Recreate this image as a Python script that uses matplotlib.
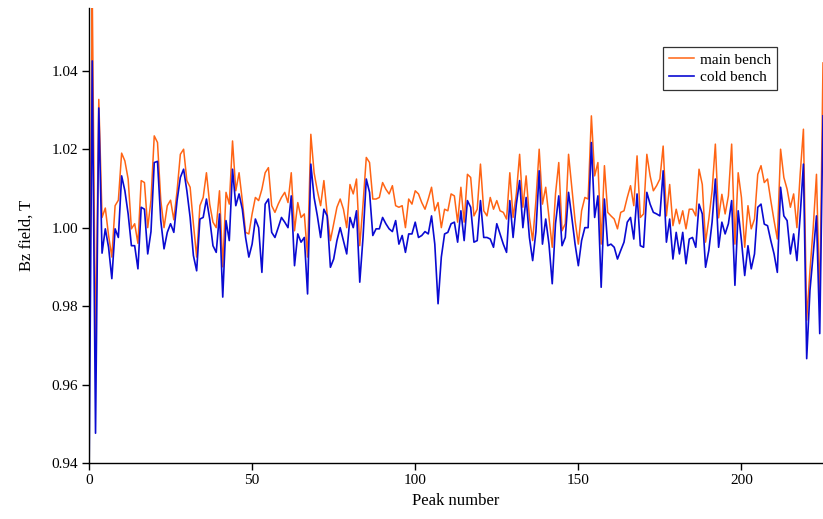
import matplotlib
matplotlib.use("Agg")
import matplotlib.pyplot as plt
import numpy as np

plt.rcParams['font.family'] = ['Liberation Serif', 'DejaVu Serif']

main_bench = [
    0.9585, 1.060, 0.968, 1.0327, 1.0026, 1.005, 0.998, 0.9925, 1.0056, 1.007,
    1.019, 1.017, 1.0124, 0.9997, 1.001, 0.996, 1.012, 1.0115, 1.000, 1.007,
    1.0234, 1.0217, 1.007, 1.000, 1.0056, 1.007, 1.002, 1.0094, 1.0187, 1.020,
    1.012, 1.0103, 1.001, 0.9925, 1.0056, 1.0077, 1.014, 1.006, 1.0014, 1.000,
    1.0094, 0.990, 1.009, 1.006, 1.0221, 1.0094, 1.014, 1.0069, 0.9988, 0.9984,
    1.0035, 1.0077, 1.0069, 1.0098, 1.014, 1.0153, 1.0056, 1.0039, 1.006, 1.0077,
    1.009, 1.0064, 1.014, 0.9992, 1.0064, 1.0026, 1.0035, 0.9925, 1.0238, 1.014,
    1.0094, 1.0056, 1.012, 1.0035, 0.9967, 1.001, 1.0052, 1.0073, 1.0047, 1.000,
    1.011, 1.0086, 1.0124, 0.9954, 1.006, 1.0179, 1.0166, 1.0073, 1.0073, 1.0077,
    1.0115, 1.0098, 1.0086, 1.0107, 1.0056, 1.0052, 1.0056, 1.000, 1.0073, 1.006,
    1.0094, 1.0086, 1.0064, 1.0047, 1.0073, 1.0103, 1.0043, 1.0064, 1.000, 1.0047,
    1.0043, 1.0086, 1.0081, 1.0014, 1.0103, 1.0014, 1.0136, 1.0128, 1.003, 1.0047,
    1.0162, 1.0043, 1.003, 1.0077, 1.0047, 1.0069, 1.0043, 1.0039, 1.0022, 1.014,
    1.0026, 1.0086, 1.0187, 1.0052, 1.0132, 1.0026, 0.9967, 1.0069, 1.020, 1.006,
    1.0103, 1.0026, 0.995, 1.0086, 1.0166, 0.9992, 1.001, 1.0187, 1.0103, 1.0018,
    0.9958, 1.0043, 1.0077, 1.0073, 1.0285, 1.0132, 1.0166, 0.9958, 1.0158, 1.0039,
    1.003, 1.0022, 0.9997, 1.0039, 1.0043, 1.0077, 1.0107, 1.0056, 1.0183, 1.0026,
    1.0035, 1.0187, 1.0132, 1.0094, 1.0107, 1.0124, 1.0208, 1.003, 1.011, 1.0005,
    1.0047, 1.001, 1.0043, 0.9997, 1.0047, 1.0047, 1.003, 1.0149, 1.011, 0.9963,
    1.0022, 1.0094, 1.0213, 1.0025, 1.0085, 1.0035, 1.0081, 1.0213, 0.9958, 1.014,
    1.0077, 0.995, 1.0056, 0.9997, 1.0022, 1.0136, 1.0158, 1.0115, 1.0124, 1.0069,
    1.0018, 0.9971, 1.020, 1.0128, 1.0098, 1.0052, 1.0086, 1.000, 1.0136, 1.0251,
    0.9764, 0.989, 1.000, 1.0136, 0.9806, 1.042,
]

cold_bench = [
    0.935, 1.0425, 0.9476, 1.0305, 0.9935, 0.9997, 0.995, 0.987, 0.9997, 0.9975,
    1.0132, 1.0094, 1.0035, 0.9954, 0.9954, 0.9895, 1.0052, 1.0047, 0.9933, 0.999,
    1.0166, 1.0169, 1.0018, 0.9946, 0.9988, 1.001, 0.9988, 1.0069, 1.0128, 1.0149,
    1.0094, 1.0026, 0.9929, 0.989, 1.0022, 1.0026, 1.0073, 1.0022, 0.9954, 0.9937,
    1.0035, 0.9823, 1.0018, 0.9967, 1.0149, 1.0056, 1.0086, 1.0047, 0.9975, 0.9925,
    0.9958, 1.0022, 1.000, 0.9886, 1.006, 1.0073, 0.9988, 0.9975, 1.000, 1.0026,
    1.0014, 1.000, 1.0081, 0.9903, 0.9984, 0.9963, 0.9975, 0.9831, 1.0162, 1.0077,
    1.003, 0.9975, 1.0047, 1.003, 0.9899, 0.992, 0.9967, 1.000, 0.9967, 0.9933,
    1.0026, 1.000, 1.0043, 0.9861, 0.9975, 1.0124, 1.009, 0.998, 0.9997, 0.9997,
    1.0026, 1.001, 0.9997, 0.999, 1.0018, 0.9958, 0.998, 0.9937, 0.9984, 0.9984,
    1.0014, 0.9975, 0.998, 0.999, 0.9984, 1.003, 0.9958, 0.9806, 0.9925, 0.9984,
    0.9988, 1.001, 1.0014, 0.9963, 1.0043, 0.9967, 1.0069, 1.0052, 0.9963, 0.9967,
    1.0069, 0.9975, 0.9975, 0.9971, 0.995, 1.001, 0.9984, 0.9958, 0.9937, 1.0069,
    0.9975, 1.006, 1.012, 1.000, 1.0077, 0.9975, 0.9916, 0.999, 1.0145, 0.9958,
    1.0022, 0.9958, 0.9857, 1.001, 1.0081, 0.9954, 0.9975, 1.009, 1.0026, 0.9958,
    0.9903, 0.9967, 1.000, 1.000, 1.0217, 1.0026, 1.0081, 0.9848, 1.0073, 0.9954,
    0.9958, 0.995, 0.992, 0.9942, 0.9963, 1.0014, 1.0026, 0.9971, 1.0086, 0.9954,
    0.995, 1.009, 1.006, 1.0039, 1.0035, 1.003, 1.0145, 0.9963, 1.0022, 0.992,
    0.9988, 0.9933, 0.9988, 0.9908, 0.9971, 0.9975, 0.995, 1.006, 1.0035, 0.9899,
    0.9942, 1.0014, 1.0124, 0.995, 1.0014, 0.9984, 1.001, 1.0069, 0.9853, 1.0043,
    0.9967, 0.9878, 0.9954, 0.9895, 0.9933, 1.0052, 1.006, 1.0009, 1.0005, 0.9967,
    0.9933, 0.9886, 1.0103, 1.003, 1.0018, 0.9933, 0.9984, 0.9916, 1.003, 1.0162,
    0.9666, 0.984, 0.9933, 1.003, 0.973, 1.0285,
]

peak_number = np.arange(len(main_bench))
y_ticks = [0.94, 0.96, 0.98, 1.00, 1.02, 1.04]
x_ticks = [0, 50, 100, 150, 200]

W, H = 823, 519
fig = plt.figure(figsize=(W / 100, H / 100), dpi=100)
ax = fig.add_axes([89 / W, (H - 463) / H, (823 - 89) / W, (463 - 8) / H])

ax.plot(peak_number, main_bench, color='#ff6414', lw=1.1, label='main bench')
ax.plot(peak_number, cold_bench, color='#0a0ad2', lw=1.2, label='cold bench')

ax.set_xlim(0, 225)
ax.set_ylim(0.94, 1.056)
ax.set_xticks(x_ticks)
ax.set_yticks(y_ticks)
ax.set_yticklabels([f"{v:.2f}" for v in y_ticks])
for s in ('top', 'right'):
    ax.spines[s].set_visible(False)
for s in ('left', 'bottom'):
    ax.spines[s].set_linewidth(1.0)
ax.tick_params(direction='out', length=5, width=1.0, labelsize=11, colors='black', pad=3)

ax.set_ylabel('Bz field, T', fontsize=12, labelpad=12)
ax.set_xlabel('Peak number', fontsize=12, labelpad=4)

leg = ax.legend(loc='upper right', bbox_to_anchor=((777 - 89) / 734, (463 - 47) / 455),
                borderaxespad=0, fontsize=11, frameon=True, fancybox=False,
                handlelength=1.6, handletextpad=0.4, borderpad=0.4, labelspacing=0.25)
leg.get_frame().set_edgecolor('black')
leg.get_frame().set_linewidth(0.9)

fig.savefig('out.png', dpi=100)
